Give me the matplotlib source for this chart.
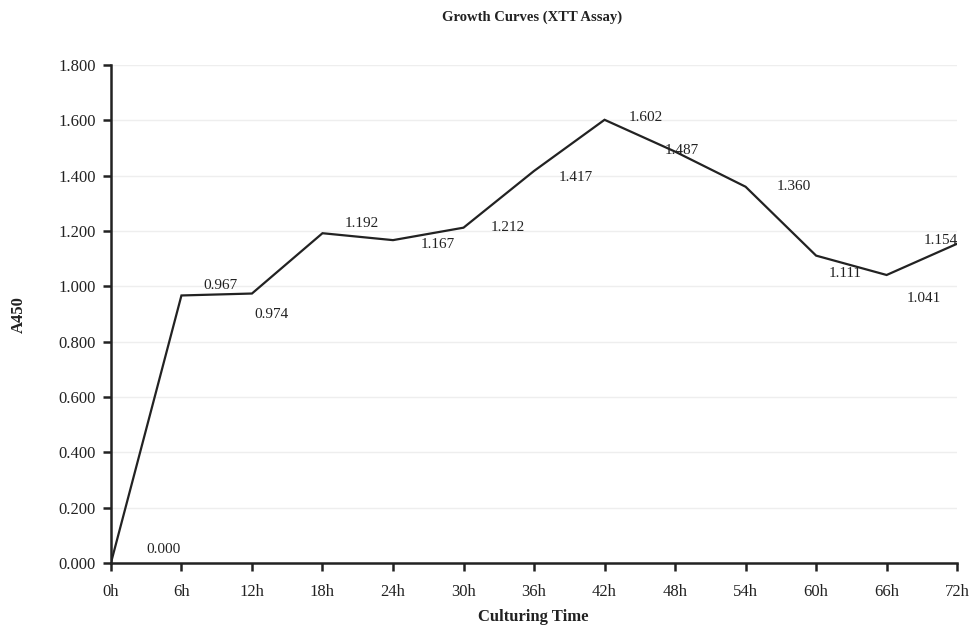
import numpy as np
import matplotlib.pyplot as plt

plt.rcParams['font.family'] = ['Liberation Serif', 'DejaVu Serif']

hours = ['0h', '6h', '12h', '18h', '24h', '30h', '36h', '42h', '48h', '54h', '60h', '66h', '72h']
a450 = [0.000, 0.967, 0.974, 1.192, 1.167, 1.212, 1.417, 1.602, 1.487, 1.360, 1.111, 1.041, 1.154]

# label offsets in points (dx, dy)
offsets = [(38, 10), (28, 7), (14, -15), (28, 7), (32, -3), (32, 0), (30, -5),
           (30, 2), (5, 1), (35, 0), (21, -13), (27, -17), (-12, 2)]

fig = plt.figure(figsize=(9.73, 6.33), dpi=100)
ax = fig.add_axes([0.114, 0.1106, 0.8697, 0.7867])

x = np.arange(len(hours))
ax.plot(x, a450, color='#222222', lw=1.6, solid_joinstyle='miter')

for xi, v, (dx, dy) in zip(x, a450, offsets):
    ax.annotate(f'{v:.3f}', xy=(xi, v), xytext=(dx, dy), textcoords='offset points',
                ha='center', va='center', fontsize=11, color='#222222')

ax.set_xlim(0, len(hours) - 1)
ax.set_ylim(0, 1.8)
ax.set_xticks(x)
ax.set_xticklabels(hours)
yt = np.arange(0, 1.81, 0.2)
ax.set_yticks(yt)
ax.set_yticklabels([f'{t:.3f}' for t in yt])
ax.tick_params(axis='both', length=6, width=1.8, color='#222222', labelsize=12,
               labelcolor='#222222', pad=5)
ax.tick_params(axis='x', pad=9)
ax.grid(axis='y', color='#eeeeee', lw=1)
ax.set_axisbelow(True)
for s in ['top', 'right']:
    ax.spines[s].set_visible(False)
for s in ['left', 'bottom']:
    ax.spines[s].set_color('#222222')
    ax.spines[s].set_linewidth(1.8)

fig.text(0.547, 0.972, 'Growth Curves (XTT Assay)', ha='center', va='center',
         fontsize=10.5, fontweight='bold', color='#222222')
fig.text(0.548, 0.012, 'Culturing Time', ha='center', va='bottom',
         fontsize=12, fontweight='bold', color='#222222')
fig.text(0.019, 0.503, 'A450', ha='center', va='center', rotation=90,
         fontsize=12, fontweight='bold', color='#222222')

fig.savefig('out.png', dpi=100, facecolor='white')
